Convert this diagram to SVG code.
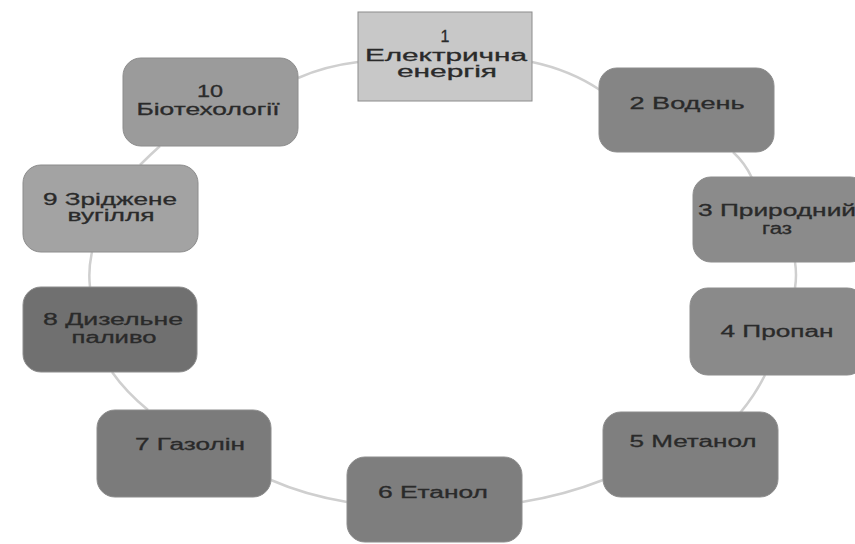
<svg xmlns="http://www.w3.org/2000/svg" width="855" height="544" viewBox="0 0 855 544">
<style>
.n{stroke:#8c8c8c;stroke-width:1}
.t{font-family:"Liberation Sans",Arial,sans-serif;font-size:16px;fill:#2a2a2a;text-anchor:middle;stroke:#2a2a2a;stroke-width:0.3}
.c{fill:none;stroke:#cfcfcf;stroke-width:2.5}
</style>
<rect width="855" height="544" fill="#ffffff"/>
<g id="connectors">
<path class="c" d="M532,62 Q570,70 600,90"/>
<path class="c" d="M733,152 Q745,163 752,178"/>
<path class="c" d="M795,262 Q797,275 795,288"/>
<path class="c" d="M765,375 Q755,395 740,413"/>
<path class="c" d="M603,480 Q565,495 522,502"/>
<path class="c" d="M347,502 Q305,495 271,480"/>
<path class="c" d="M148,410 Q126,392 112,372"/>
<path class="c" d="M90,287 Q88,270 92,252"/>
<path class="c" d="M140,165 Q150,155 160,146"/>
<path class="c" d="M298,78 Q325,66 358,62"/>
</g>
<g id="node1">
<rect class="n" x="358" y="12" width="174" height="89" fill="#c8c8c8"/>
<text class="t" x="445" y="42">1</text>
<text class="t" x="446" y="61" textLength="162" lengthAdjust="spacingAndGlyphs">Електрична</text>
<text class="t" x="447" y="77" textLength="100" lengthAdjust="spacingAndGlyphs">енергія</text>
</g>
<g id="node2">
<rect class="n" x="599" y="68" width="175" height="84" rx="18" fill="#858585"/>
<text class="t" x="687" y="109" textLength="115" lengthAdjust="spacingAndGlyphs">2 Водень</text>
</g>
<g id="node3">
<rect class="n" x="693" y="177" width="175" height="85" rx="18" fill="#8b8b8b"/>
<text class="t" x="777" y="216" textLength="158" lengthAdjust="spacingAndGlyphs">3 Природний</text>
<text class="t" x="777" y="234" textLength="30" lengthAdjust="spacingAndGlyphs">газ</text>
</g>
<g id="node4">
<rect class="n" x="690" y="288" width="175" height="87" rx="18" fill="#8a8a8a"/>
<text class="t" x="777" y="337" textLength="113" lengthAdjust="spacingAndGlyphs">4 Пропан</text>
</g>
<g id="node5">
<rect class="n" x="603" y="412" width="175" height="85" rx="18" fill="#7f7f7f"/>
<text class="t" x="693" y="447" textLength="127" lengthAdjust="spacingAndGlyphs">5 Метанол</text>
</g>
<g id="node6">
<rect class="n" x="347" y="457" width="175" height="85" rx="18" fill="#7e7e7e"/>
<text class="t" x="433" y="498" textLength="110" lengthAdjust="spacingAndGlyphs">6 Етанол</text>
</g>
<g id="node7">
<rect class="n" x="97" y="410" width="174" height="87" rx="18" fill="#7b7b7b"/>
<text class="t" x="190" y="450" textLength="110" lengthAdjust="spacingAndGlyphs">7 Газолін</text>
</g>
<g id="node8">
<rect class="n" x="23" y="287" width="174" height="85" rx="18" fill="#707070"/>
<text class="t" x="113" y="325" textLength="140" lengthAdjust="spacingAndGlyphs">8 Дизельне</text>
<text class="t" x="114" y="343" textLength="85" lengthAdjust="spacingAndGlyphs">паливо</text>
</g>
<g id="node9">
<rect class="n" x="23" y="165" width="175" height="87" rx="18" fill="#a3a3a3"/>
<text class="t" x="110" y="205" textLength="134" lengthAdjust="spacingAndGlyphs">9 Зріджене</text>
<text class="t" x="111" y="221" textLength="87" lengthAdjust="spacingAndGlyphs">вугілля</text>
</g>
<g id="node10">
<rect class="n" x="123" y="58" width="175" height="88" rx="18" fill="#9b9b9b"/>
<text class="t" x="210" y="97" textLength="26" lengthAdjust="spacingAndGlyphs">10</text>
<text class="t" x="208" y="115" textLength="143" lengthAdjust="spacingAndGlyphs">Біотехології</text>
</g>
</svg>
